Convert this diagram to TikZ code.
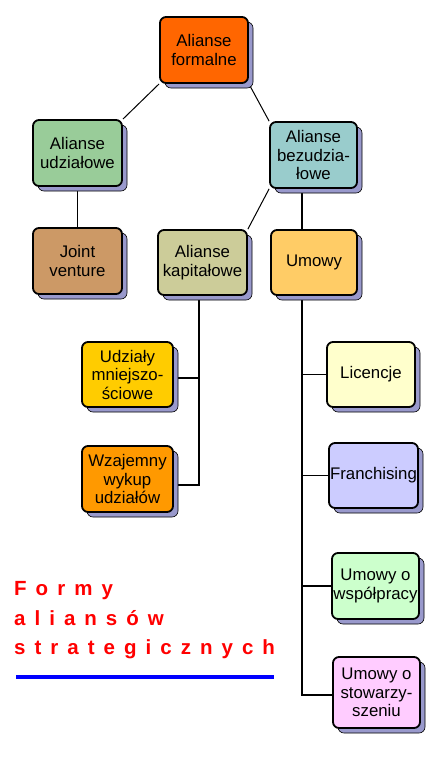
\documentclass[tikz,border=0pt]{standalone}
\usepackage{fontspec}
\setmainfont{Liberation Sans}
\newfontfamily\titlefont[LetterSpace=44]{Liberation Sans}
\usetikzlibrary{shadows,backgrounds}

\definecolor{cShadow}{HTML}{9999CC}
\definecolor{cFormal}{HTML}{FF6600}
\definecolor{cEquity}{HTML}{99CC99}
\definecolor{cJoint}{HTML}{CC9966}
\definecolor{cNonEq}{HTML}{99CCCC}
\definecolor{cCapital}{HTML}{CCCC99}
\definecolor{cContract}{HTML}{FFCC66}
\definecolor{cMinor}{HTML}{FFCC00}
\definecolor{cMutual}{HTML}{FF9900}
\definecolor{cLicence}{HTML}{FFFFCC}
\definecolor{cFranch}{HTML}{CCCCFF}
\definecolor{cCoop}{HTML}{CCFFCC}
\definecolor{cAssoc}{HTML}{FFCCFF}

\begin{document}
\begin{tikzpicture}[
  x=1pt, y=-1pt,
  box/.style={draw, line width=1.8pt, rounded corners=6pt, align=center,
    minimum width=88pt, minimum height=66pt, inner sep=0.5pt,
    font=\fontsize{16.8}{18.5}\selectfont,
    drop shadow={shadow xshift=5pt, shadow yshift=-5pt, fill=cShadow,
      draw=black, line width=0.6pt, opacity=1}},
  link/.style={line width=1.5pt},
  slant/.style={line width=1pt},
  title/.style={anchor=base west, inner sep=0pt, text=red,
    font=\titlefont\bfseries\fontsize{20.5}{24}\selectfont},
]
  \useasboundingbox (0,0) rectangle (440,761);

  % top level
  \node[box, fill=cFormal] (formal) at (204,50) {Alianse\\formalne};
  \node[box, fill=cEquity, minimum width=89pt] (equity) at (77.5,153) {Alianse\\udziałowe};
  \node[box, fill=cNonEq, minimum width=87pt] (noneq) at (313.5,155) {Alianse\\bezudzia-\\łowe};

  % second level
  \node[box, fill=cJoint, minimum width=89pt] (joint) at (77.5,261) {Joint\\venture};
  \node[box, fill=cCapital, minimum width=89pt, minimum height=65pt] (capital) at (202.5,262.5) {Alianse\\kapitałowe};
  \node[box, fill=cContract, minimum width=86pt, minimum height=65pt] (contract) at (314,262.5) {Umowy};

  % capital branch
  \node[box, fill=cMinor, minimum width=91pt, minimum height=65pt] (minor) at (127.5,374.5) {Udziały\\mniejszo-\\ściowe};
  \node[box, fill=cMutual, minimum width=91pt] (mutual) at (127.5,479) {Wzajemny\\wykup\\udziałów};

  % contract branch
  \node[box, fill=cLicence, minimum height=65pt] (licence) at (371,374.5) {Licencje};
  \node[box, fill=cFranch, minimum width=89pt, minimum height=65pt] (franch) at (373.5,475.5) {Franchising};
  \node[box, fill=cCoop, minimum width=87pt] (coop) at (375.5,586) {Umowy o\\współpracy};
  \node[box, fill=cAssoc, minimum width=87pt, minimum height=71pt] (assoc) at (376.5,692.5) {Umowy o\\stowarzy-\\szeniu};

  % spines of the two lower branches
  \coordinate (kMid) at (199,378);
  \coordinate (kEnd) at (199,485);
  \coordinate (uTop) at (302,188);
  \coordinate (uEnd) at (302,695);

  \begin{scope}[on background layer]
    \fill[white] (0,0) rectangle (440,761);
    \draw[slant] (formal.south west) -- (equity.north east);
    \draw[slant] (formal.south east) -- (noneq.north west);
    \draw[slant] (noneq.south west) -- (capital.north east);
    \draw[link] (equity.south) -- (joint.north);
    \draw[link] (noneq.south -| uTop) -- (contract.north -| uTop);
    \draw[link] (capital.south -| kEnd) -- (kEnd) -- (mutual.east |- kEnd);
    \draw[link] (kMid) -- (minor.east |- kMid);
    \draw[link] (contract.south -| uEnd) -- (uEnd) -- (assoc.west |- uEnd);
    \foreach \n in {licence,franch,coop}
      \draw[link] (uEnd |- \n.west) -- (\n.west);
  \end{scope}

  % title
  \node[title] (t1) at (14,595) {Formy};
  \node[title] (t2) at (14,625) {aliansów};
  \node[title] (t3) at (14,654) {strategicznych};
  \fill[blue] (16,674.5) rectangle (274,679);
\end{tikzpicture}
\end{document}
